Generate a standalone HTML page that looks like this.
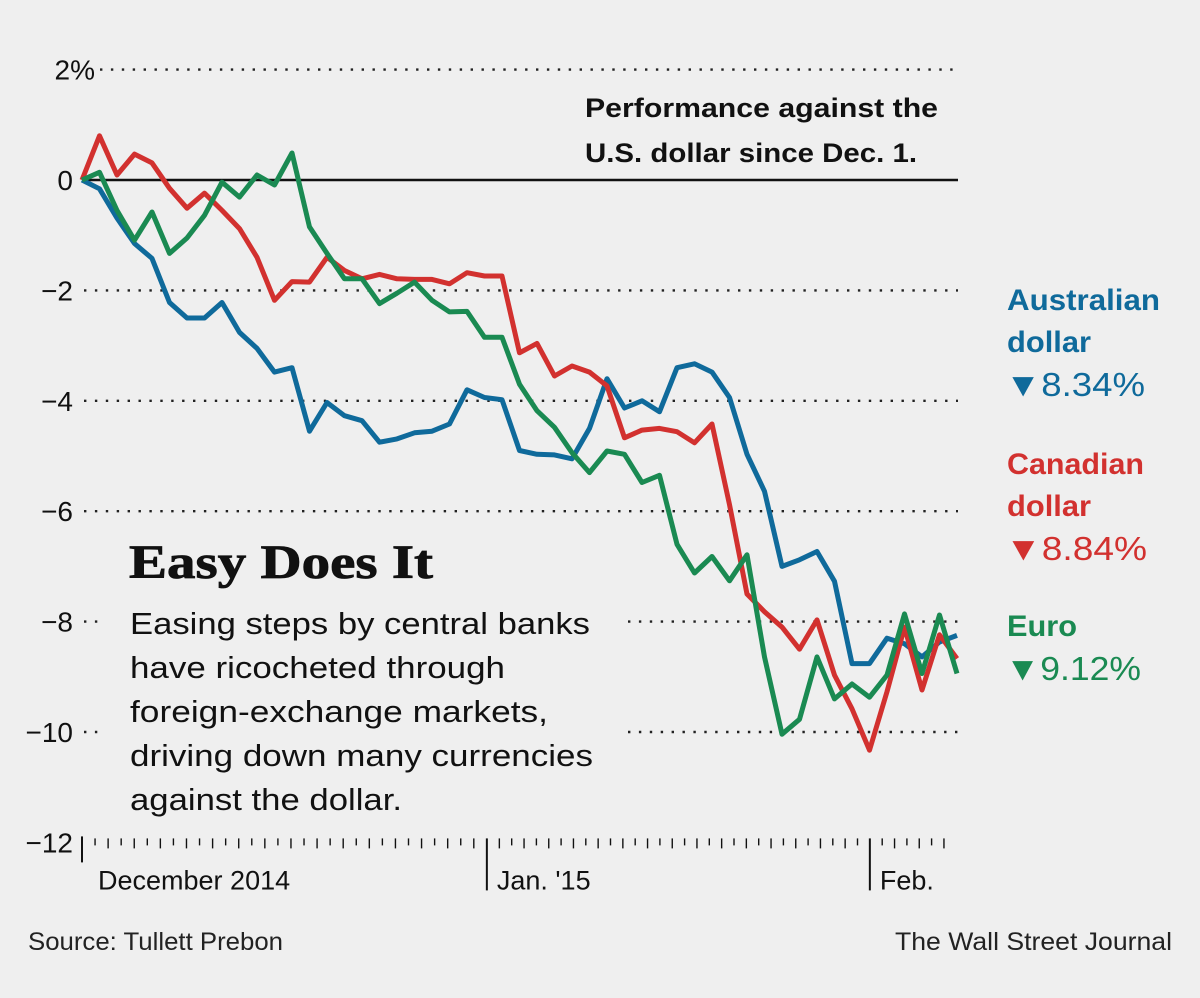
<!DOCTYPE html>
<html><head><meta charset="utf-8"><style>
html,body{margin:0;padding:0;background:#efefef;}
svg{display:block;font-family:"Liberation Sans",sans-serif;}
</style></head><body>
<svg id="chart" width="1200" height="998" viewBox="0 0 1200 998">
<rect width="1200" height="998" fill="#efefef"/>
<g id="grid"></g>
<g id="ylabels"></g>
<g id="xaxis"></g>
<g id="series"></g>
<text x="585" y="117" font-size="27" font-weight="bold" fill="#111" textLength="353" lengthAdjust="spacingAndGlyphs">Performance against the</text>
<text x="585" y="162" font-size="27" font-weight="bold" fill="#111" textLength="332" lengthAdjust="spacingAndGlyphs">U.S. dollar since Dec. 1.</text>
<text x="129" y="578" font-family="Liberation Serif,serif" font-size="48" font-weight="bold" fill="#111" stroke="#111" stroke-width="0.8" textLength="304" lengthAdjust="spacingAndGlyphs">Easy Does It</text>
<g font-size="31" fill="#111">
<text x="130" y="634" textLength="460" lengthAdjust="spacingAndGlyphs">Easing steps by central banks</text>
<text x="130" y="678" textLength="375" lengthAdjust="spacingAndGlyphs">have ricocheted through</text>
<text x="130" y="722" textLength="418" lengthAdjust="spacingAndGlyphs">foreign-exchange markets,</text>
<text x="130" y="766" textLength="463" lengthAdjust="spacingAndGlyphs">driving down many currencies</text>
<text x="130" y="810" textLength="272" lengthAdjust="spacingAndGlyphs">against the dollar.</text>
</g>
<g>
<text x="1007" y="310" font-size="30" font-weight="bold" fill="#0f6a9b" textLength="153" lengthAdjust="spacingAndGlyphs">Australian</text>
<text x="1007" y="352" font-size="30" font-weight="bold" fill="#0f6a9b" textLength="84" lengthAdjust="spacingAndGlyphs">dollar</text>
<text x="1005" y="396" font-size="33" fill="#0f6a9b" textLength="140" lengthAdjust="spacingAndGlyphs">▼8.34%</text>
<text x="1007" y="474" font-size="30" font-weight="bold" fill="#d2312f" textLength="137" lengthAdjust="spacingAndGlyphs">Canadian</text>
<text x="1007" y="516" font-size="30" font-weight="bold" fill="#d2312f" textLength="84" lengthAdjust="spacingAndGlyphs">dollar</text>
<text x="1005" y="560" font-size="33" fill="#d2312f" textLength="142" lengthAdjust="spacingAndGlyphs">▼8.84%</text>
<text x="1007" y="636" font-size="30" font-weight="bold" fill="#1a8a52" textLength="70" lengthAdjust="spacingAndGlyphs">Euro</text>
<text x="1005" y="680" font-size="33" fill="#1a8a52" textLength="136" lengthAdjust="spacingAndGlyphs">▼9.12%</text>
</g>
<text x="28" y="950" font-size="25" fill="#222" textLength="255" lengthAdjust="spacingAndGlyphs">Source: Tullett Prebon</text>
<text x="1172" y="950" font-size="25" fill="#222" text-anchor="end" textLength="277" lengthAdjust="spacingAndGlyphs">The Wall Street Journal</text>
</svg>
<script>
const yTicks = [2, 0, -2, -4, -6, -8, -10, -12];
const yTickLabels = ["2%", "0", "−2", "−4", "−6", "−8", "−10", "−12"];
const xMonthLabels = ["December 2014", "Jan. '15", "Feb."];
const xMonthDays = [0, 31, 62];
const aud = [0,-0.16,-0.69,-1.15,-1.42,-2.22,-2.5,-2.5,-2.22,-2.76,-3.05,-3.48,-3.4,-4.55,-4.03,-4.27,-4.36,-4.75,-4.69,-4.58,-4.55,-4.42,-3.8,-3.94,-3.98,-4.9,-4.97,-4.98,-5.05,-4.5,-3.6,-4.13,-4.0,-4.2,-3.4,-3.33,-3.48,-3.94,-4.97,-5.64,-7.0,-6.88,-6.73,-7.27,-8.76,-8.76,-8.3,-8.4,-8.64,-8.37,-8.25];
const cad = [0,0.8,0.09,0.47,0.31,-0.15,-0.51,-0.24,-0.55,-0.88,-1.4,-2.18,-1.84,-1.85,-1.4,-1.64,-1.79,-1.71,-1.79,-1.8,-1.8,-1.88,-1.68,-1.74,-1.74,-3.13,-2.96,-3.55,-3.37,-3.48,-3.73,-4.67,-4.53,-4.5,-4.56,-4.76,-4.42,-5.88,-7.5,-7.82,-8.1,-8.5,-7.97,-8.97,-9.58,-10.33,-9.27,-8.1,-9.24,-8.24,-8.67];
const eur = [0,0.14,-0.55,-1.09,-0.58,-1.33,-1.05,-0.64,-0.04,-0.31,0.09,-0.09,0.49,-0.85,-1.33,-1.79,-1.79,-2.24,-2.05,-1.85,-2.18,-2.39,-2.38,-2.85,-2.85,-3.7,-4.18,-4.48,-4.94,-5.3,-4.91,-4.97,-5.48,-5.35,-6.6,-7.12,-6.82,-7.26,-6.79,-8.64,-10.04,-9.77,-8.64,-9.4,-9.13,-9.37,-8.97,-7.86,-8.94,-7.88,-8.94];

const NS = "http://www.w3.org/2000/svg";
const X0 = 82, X1 = 957;
const yScale = v => 180 - v * 55.2;
const xScale = i => X0 + i * (X1 - X0) / (aud.length - 1);
const dayScale = d => d <= 31 ? X0 + d * 13.06 : 487 + (d - 31) * 12.35;
function mk(tag, attrs, parent) {
  const e = document.createElementNS(NS, tag);
  for (const k in attrs) e.setAttribute(k, attrs[k]);
  parent.appendChild(e);
  return e;
}
const grid = document.getElementById('grid');
const ylab = document.getElementById('ylabels');
yTicks.forEach((v, k) => {
  const y = yScale(v);
  if (v === -12) return;
  let ln;
  if (v === 0) {
    ln = mk('line', {x1: X0, x2: 958, y1: y, y2: y, stroke: '#111', 'stroke-width': 2.4}, grid);
  } else if (v <= -8) {
    ln = mk('line', {x1: 628, x2: 958, y1: y, y2: y, stroke: '#222', 'stroke-width': 2.4, 'stroke-dasharray': '2.4 8.5'}, grid);
    const ln2 = mk('line', {x1: 84, x2: 104, y1: y, y2: y, stroke: '#222', 'stroke-width': 2.4, 'stroke-dasharray': '2.4 8.5'}, grid);
    
    
  } else {
    ln = mk('line', {x1: v === 2 ? 100 : 84, x2: 958, y1: y, y2: y, stroke: '#222', 'stroke-width': 2.4, 'stroke-dasharray': '2.4 8.5'}, grid);
  }
  
  
});
yTicks.forEach((v, k) => {
  const t = mk('text', {x: v === 2 ? 95 : 73, y: yScale(v) + 10, 'font-size': 28, fill: '#111', 'text-anchor': 'end'}, ylab);
  t.textContent = yTickLabels[k];
  
  
});
const xa = document.getElementById('xaxis');
const yb = yScale(-12);
for (let d = 0; d <= 68; d++) {
  const x = dayScale(d);
  if (x > 958) break;
  const major = xMonthDays.includes(d);
  const t = mk('line', {x1: x, x2: x, y1: yb - 4, y2: major ? yb + 48 : yb + (d % 2 ? 3 : 6), stroke: '#111', 'stroke-width': major ? 2 : 1.4}, xa);
  if (d === 0) { t.setAttribute('y1', yb - 6); t.setAttribute('y2', yb + 20); }
  
  
}
xMonthLabels.forEach((s, k) => {
  const t = mk('text', {x: dayScale(xMonthDays[k]) + (k === 0 ? 16 : 10), y: yb + 47, 'font-size': 27, fill: '#111'}, xa);
  t.textContent = s;
  
  
});
const sg = document.getElementById('series');
[[aud, '#0f6a9b', 'line-australian-dollar'], [cad, '#d2312f', 'line-canadian-dollar'], [eur, '#1a8a52', 'line-euro']].forEach(([arr, c, n]) => {
  const p = mk('polyline', {points: arr.map((v, i) => xScale(i).toFixed(1) + ',' + yScale(v).toFixed(1)).join(' '), fill: 'none', stroke: c, 'stroke-width': 5, 'stroke-linejoin': 'round'}, sg);
  
  
});
</script>
</body></html>
